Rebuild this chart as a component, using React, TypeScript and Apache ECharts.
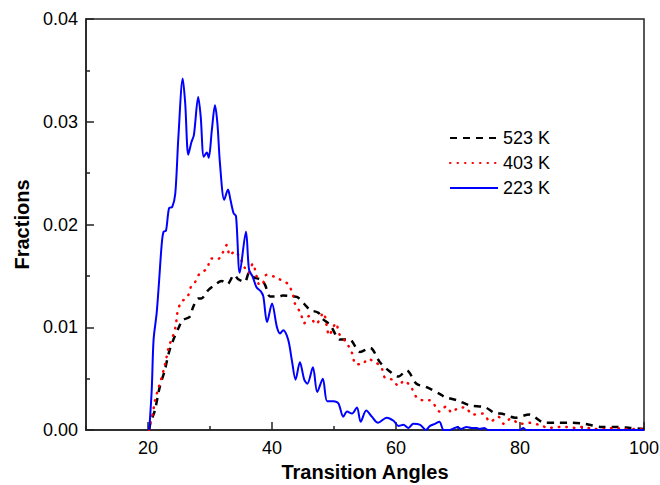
import React, { useEffect, useRef } from "react";
import * as echarts from "echarts";

const xMajorTicks = [20, 40, 60, 80, 100];
const xMinorTicks = [10, 30, 50, 70, 90];

const names = ["523 K", "403 K", "223 K"];

const angles523 = [20.2, 20.4, 21.1, 21.9, 22.7, 23.4, 24.1, 24.9, 25.6, 26.7, 27.3, 28.1, 28.6, 29.7, 30.5, 31.9, 32.8, 33.9, 34.5, 35.6, 36.3, 36.9, 38.3, 38.9, 39.7, 41.3, 41.7, 43.5, 44.2, 45.6, 46.1, 47.5, 48.0, 49.4, 51.0, 52.5, 54.2, 55.8, 57.4, 58.8, 60.4, 61.7, 63.3, 64.8, 67.1, 67.9, 69.8, 71.9, 74.4, 76.2, 76.8, 79.2, 81.5, 84.0, 86.2, 88.3, 90.5, 93.2, 95.6, 97.8, 100];
const fractions523 = [0, 0.0007, 0.0019, 0.0042, 0.0058, 0.0076, 0.0088, 0.0099, 0.0107, 0.011, 0.012, 0.0128, 0.0128, 0.0136, 0.014, 0.0145, 0.0142, 0.0151, 0.0147, 0.0144, 0.0153, 0.0149, 0.0146, 0.0141, 0.013, 0.013, 0.0131, 0.013, 0.0129, 0.012, 0.0117, 0.0114, 0.0109, 0.0102, 0.0088, 0.0088, 0.0076, 0.008, 0.0066, 0.0058, 0.0052, 0.0058, 0.0045, 0.0042, 0.0035, 0.0032, 0.0029, 0.0024, 0.0022, 0.0016, 0.0016, 0.0012, 0.0015, 0.0007, 0.0007, 0.0007, 0.0006, 0.0003, 0.0003, 0.0002, 0.0001];

const angles403 = [20.2, 20.4, 20.8, 21.1, 21.6, 22.1, 22.6, 23.0, 23.4, 24.0, 24.5, 24.7, 25.3, 26.4, 26.9, 27.6, 28.3, 29.5, 30.2, 31.2, 32.0, 32.7, 33.2, 34.0, 34.8, 35.6, 36.2, 36.9, 37.5, 38.0, 38.5, 39.1, 40.5, 41.7, 42.6, 43.3, 43.7, 44.6, 45.2, 46.0, 47.1, 48.3, 48.8, 49.2, 49.6, 50.3, 50.9, 52.0, 52.9, 53.5, 54.6, 55.4, 56.7, 57.7, 58.2, 59.4, 60.4, 61.3, 62.4, 63.3, 64.3, 65.4, 66.6, 67.0, 68.1, 69.0, 69.9, 71.1, 72.4, 74.0, 75.2, 76.5, 77.4, 78.5, 80.0, 81.5, 83.1, 84.7, 86.2, 87.5, 89.0, 90.2, 91.8, 93.7, 95.1, 96.7, 98.3, 100];
const fractions403 = [0, 0.0007, 0.0017, 0.0028, 0.0039, 0.0049, 0.006, 0.0071, 0.0082, 0.0091, 0.0102, 0.0113, 0.0124, 0.013, 0.0139, 0.0144, 0.0152, 0.0157, 0.0167, 0.0166, 0.0172, 0.018, 0.017, 0.0174, 0.0168, 0.0158, 0.0153, 0.0162, 0.015, 0.0141, 0.0142, 0.0151, 0.0149, 0.0145, 0.0142, 0.0133, 0.0123, 0.0114, 0.0104, 0.0111, 0.0103, 0.0114, 0.0102, 0.0092, 0.0096, 0.0104, 0.0093, 0.0085, 0.0075, 0.0064, 0.0064, 0.0069, 0.0066, 0.006, 0.0051, 0.0049, 0.0043, 0.0048, 0.0042, 0.0032, 0.0029, 0.0029, 0.0021, 0.0018, 0.0023, 0.0017, 0.0021, 0.0022, 0.0015, 0.0016, 0.0008, 0.0013, 0.0006, 0.0011, 0.0006, 0.0007, 0.0005, 0.0002, 0.0003, 0.0003, 0.0002, 0.0003, 0.0001, 0.0001, 0.0002, 0.0001, 0.0001, 0.0001];

const angles223 = [20.2, 20.6, 20.9, 21.4, 21.8, 22.2, 22.5, 22.9, 23.4, 23.9, 24.4, 24.9, 25.6, 26.0, 26.5, 27.0, 27.4, 28.1, 28.5, 29.0, 29.5, 29.8, 30.3, 30.8, 31.2, 31.6, 32.3, 32.9, 33.3, 33.8, 34.2, 34.8, 35.8, 36.3, 36.9, 37.5, 38.2, 38.6, 39.2, 40.0, 40.8, 41.3, 41.8, 42.6, 43.2, 43.8, 44.5, 45.2, 45.7, 46.6, 47.3, 48.2, 48.9, 49.9, 50.7, 51.5, 52.1, 52.9, 53.7, 54.3, 55.2, 56.1, 57.1, 58.5, 59.6, 60.4, 61.2, 62.0, 62.8, 63.9, 64.8, 65.5, 66.3, 67.0, 67.7, 68.7, 69.5, 69.9, 70.5, 71.4, 72.2, 73.0, 73.5, 74.2, 74.9, 80.0, 80.5, 81.0, 100];
const fractions223 = [0, 0.0039, 0.0088, 0.0114, 0.0146, 0.018, 0.0193, 0.0194, 0.0216, 0.0217, 0.023, 0.0285, 0.0342, 0.0318, 0.0268, 0.028, 0.0287, 0.0324, 0.0305, 0.0266, 0.027, 0.0265, 0.0292, 0.0316, 0.0298, 0.026, 0.0224, 0.0234, 0.0224, 0.0211, 0.0208, 0.0153, 0.0193, 0.0156, 0.0149, 0.0139, 0.0135, 0.013, 0.0105, 0.0123, 0.01, 0.0094, 0.0097, 0.0088, 0.0068, 0.0049, 0.0066, 0.0049, 0.0045, 0.0061, 0.0037, 0.005, 0.0028, 0.0028, 0.0026, 0.0013, 0.0018, 0.0016, 0.0022, 0.0008, 0.0019, 0.0013, 0.0007, 0.0012, 0.0009, 0.0004, 0.0005, 0.0002, 0.0006, 0.0005, 0, 0.0004, 0.0006, 0.0008, 0, 0, 0.0002, 0.0003, 0.0001, 0.0003, 0.0002, 0.0002, 0.0001, 0.0002, 0, 0, 0.0002, 0, 0];

const zip = (xs: number[], ys: number[]) => xs.map((x, i) => [x, ys[i]]);

export default function App() {
  const ref = useRef<HTMLDivElement>(null);
  useEffect(() => {
    document.body.style.margin = "0";
    const chart = echarts.init(ref.current!, null, { renderer: "svg" });
    const font = "Liberation Sans, Arial, sans-serif";
    const axisColor = "#222";
    chart.setOption({
      animation: false,
      backgroundColor: "#fff",
      grid: {
        left: 86,
        right: 16,
        top: 19,
        bottom: 55,
        outerBoundsMode: "none",
        containLabel: false,
        show: true,
        borderColor: axisColor,
        borderWidth: 1.5,
      },
      legend: {
        orient: "vertical",
        left: 449,
        top: 129,
        padding: 0,
        itemWidth: 48,
        itemHeight: 14,
        itemGap: 7,
        itemStyle: { opacity: 0 },
        textStyle: { fontFamily: font, fontSize: 18, color: "#000" },
        data: names,
      },
      xAxis: [
        {
          type: "value",
          min: 10,
          max: 100,
          interval: 10,
          name: "Transition Angles",
          nameLocation: "middle",
          nameGap: 31,
          nameTextStyle: { fontFamily: font, fontSize: 20, fontWeight: "bold", color: "#000" },
          axisLine: { show: true, lineStyle: { color: axisColor, width: 1.5 } },
          axisTick: { show: true, inside: true, length: 8, customValues: xMajorTicks, lineStyle: { color: axisColor, width: 1.5 } },
          axisLabel: { customValues: xMajorTicks, fontFamily: font, fontSize: 18, color: "#000", margin: 9 },
          splitLine: { show: false },
        },
        {
          type: "value",
          min: 10,
          max: 100,
          interval: 10,
          position: "bottom",
          axisLine: { show: false },
          axisTick: { show: true, inside: true, length: 4, customValues: xMinorTicks, lineStyle: { color: axisColor, width: 1.5 } },
          axisLabel: { show: false },
          splitLine: { show: false },
        },
      ],
      yAxis: {
        type: "value",
        min: 0,
        max: 0.04,
        interval: 0.01,
        name: "Fractions",
        nameLocation: "middle",
        nameGap: 48,
        nameTextStyle: { fontFamily: font, fontSize: 20, fontWeight: "bold", color: "#000" },
        axisLine: { show: true, lineStyle: { color: axisColor, width: 1.5 } },
        axisTick: { show: true, inside: true, length: 8, lineStyle: { color: axisColor, width: 1.5 } },
        minorTick: { show: true, splitNumber: 2, length: 4, lineStyle: { color: axisColor, width: 1.5 } },
        axisLabel: { fontFamily: font, fontSize: 18, color: "#000", margin: 8, formatter: (v: number) => v.toFixed(2) },
        splitLine: { show: false },
      },
      series: [
        {
          name: names[0],
          type: "line",
          symbol: "none",
          smooth: 0.3,
          data: zip(angles523, fractions523),
          lineStyle: { color: "#000", width: 2.5, type: [7, 6] },
          itemStyle: { color: "#000" },
        },
        {
          name: names[1],
          type: "line",
          symbol: "none",
          smooth: 0.3,
          data: zip(angles403, fractions403),
          lineStyle: { color: "#ff0000", width: 2.5, type: [0.5, 7], cap: "round" },
          itemStyle: { color: "#ff0000" },
        },
        {
          name: names[2],
          type: "line",
          symbol: "none",
          smooth: 0.3,
          data: zip(angles223, fractions223),
          lineStyle: { color: "#0000ff", width: 2 },
          itemStyle: { color: "#0000ff" },
        },
      ],
    });
    return () => chart.dispose();
  }, []);
  return <div ref={ref} style={{ width: 660, height: 485 }} />;
}
